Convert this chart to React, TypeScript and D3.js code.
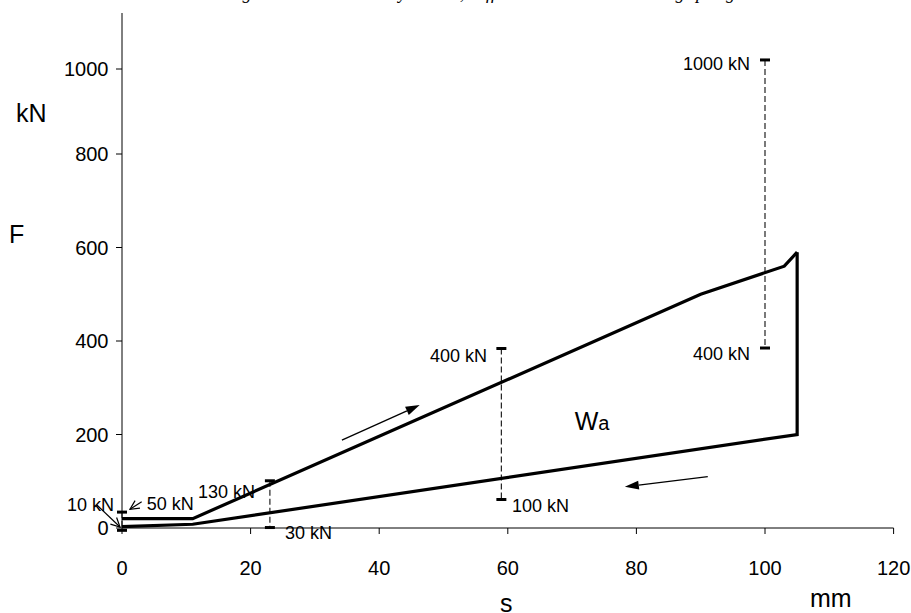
import React from "react";
import * as d3 from "d3";

const W = 911;
const H = 613;

// loading branch (s in mm, F in kN)
const loadS = [0, 11, 90, 103, 105];
const loadF = [20, 20, 500, 560, 590];
// unloading branch
const unloadS = [105, 105, 11, 0];
const unloadF = [590, 200, 8, 3];

const xTicks = [0, 20, 40, 60, 80, 100, 120];
const yTicks = [0, 200, 400, 600, 800, 1000];

// tolerance bands (dashed verticals with end caps)
const rangeS = [0, 23, 59, 100];
const rangeLo = [-5, 1, 61, 385];
const rangeHi = [34, 101, 384, 1021];

// band labels (anchor in data units: s, F)
const noteText = ["10 kN", "50 kN", "130 kN", "30 kN", "400 kN", "100 kN", "1000 kN", "400 kN"];
const noteS = [-8.55, 3.83, 11.82, 25.35, 47.9, 60.65, 87.25, 88.8];
const noteF = [35.3, 38.5, 64.2, -23.5, 355.5, 34.2, 997.6, 359.4];

// direction arrows (filled heads)
const dirFromS = [34.2, 91.1];
const dirFromF = [188, 110];
const dirToS = [46.3, 78.2];
const dirToF = [263, 88];

// pointer arrows (open heads)
const ptrFromS = [-3.9, 3.06];
const ptrFromF = [49.2, 56.3];
const ptrToS = [-0.31, 1.24];
const ptrToF = [2.1, 40.1];

const titleText = "Fig. 5.1: Force-stroke hysteresis, stiff mount with the outer ring spring";

const SANS = "'Liberation Sans', Arial, Helvetica, sans-serif";

export default function App() {
  const x = d3.scaleLinear().domain([0, 120]).range([122, 893.6]);
  const y = d3.scaleLinear().domain([0, 800, 1000, 1130]).range([528, 154, 69, 13]);

  const line = d3
    .line<[number, number]>()
    .x((d) => x(d[0]))
    .y((d) => y(d[1]));

  const loadPts: [number, number][] = loadS.map((s, i) => [s, loadF[i]]);
  const unloadPts: [number, number][] = unloadS.map((s, i) => [s, unloadF[i]]);

  const filledArrow = (i: number) => {
    const x0 = x(dirFromS[i]), y0 = y(dirFromF[i]);
    const x1 = x(dirToS[i]), y1 = y(dirToF[i]);
    const dx = x1 - x0, dy = y1 - y0;
    const len = Math.hypot(dx, dy);
    const ux = dx / len, uy = dy / len;
    const nx = -uy, ny = ux;
    const L = 14, w = 4.5;
    const bx = x1 - ux * L, by = y1 - uy * L;
    return (
      <g key={"da" + i}>
        <line x1={x0} y1={y0} x2={bx} y2={by} stroke="#000" strokeWidth={1.3} />
        <polygon
          points={`${x1},${y1} ${bx + nx * w},${by + ny * w} ${bx - nx * w},${by - ny * w}`}
          fill="#000"
        />
      </g>
    );
  };

  const openArrow = (i: number) => {
    const x0 = x(ptrFromS[i]), y0 = y(ptrFromF[i]);
    const x1 = x(ptrToS[i]), y1 = y(ptrToF[i]);
    const dx = x1 - x0, dy = y1 - y0;
    const len = Math.hypot(dx, dy);
    const ux = dx / len, uy = dy / len;
    const nx = -uy, ny = ux;
    const L = 9, w = 4.5;
    const bx = x1 - ux * L, by = y1 - uy * L;
    return (
      <g key={"pa" + i} stroke="#000" strokeWidth={1.2} fill="none">
        <line x1={x0} y1={y0} x2={x1} y2={y1} />
        <polyline points={`${bx + nx * w},${by + ny * w} ${x1},${y1} ${bx - nx * w},${by - ny * w}`} />
      </g>
    );
  };

  const x0 = x(0);
  const y0 = y(0);

  return (
    <svg
      width={W}
      height={H}
      viewBox={`0 0 ${W} ${H}`}
      style={{ position: "absolute", left: 0, top: 0, background: "#fff" }}
    >
      <rect x={0} y={0} width={W} height={H} fill="#fff" />
      {/* clipped title (only descenders visible) */}
      <text
        x={226.5}
        y={-1}
        fontFamily="'Liberation Serif', 'Times New Roman', serif"
        fontStyle="italic"
        fontSize={18}
        fill="#000"
      >
        {titleText}
      </text>

      {/* axes */}
      <line x1={x0} y1={y(1130)} x2={x0} y2={y0} stroke="#000" strokeWidth={1} />
      <line x1={x0} y1={y0} x2={x(120)} y2={y0} stroke="#000" strokeWidth={1} />
      {yTicks.map((v) => (
        <g key={"yt" + v}>
          <line x1={x0 - 6} y1={y(v)} x2={x0} y2={y(v)} stroke="#000" strokeWidth={1} />
          <text
            x={108.5}
            y={y(v) + 7}
            textAnchor="end"
            fontFamily={SANS}
            fontSize={20}
            fill="#000"
          >
            {v}
          </text>
        </g>
      ))}
      {xTicks.map((v) => (
        <g key={"xt" + v}>
          <line x1={x(v)} y1={y0} x2={x(v)} y2={y0 + 6} stroke="#000" strokeWidth={1} />
          <text
            x={x(v)}
            y={575}
            textAnchor="middle"
            fontFamily={SANS}
            fontSize={20}
            fill="#000"
          >
            {v}
          </text>
        </g>
      ))}

      {/* axis titles */}
      <text x={16} y={122} fontFamily={SANS} fontSize={25} fill="#000">kN</text>
      <text x={9} y={243} fontFamily={SANS} fontSize={25} fill="#000">F</text>
      <text x={500} y={612} fontFamily={SANS} fontSize={25} fill="#000">s</text>
      <text x={810} y={607} fontFamily={SANS} fontSize={25} fill="#000">mm</text>

      {/* tolerance bands */}
      {rangeS.map((s, i) => (
        <g key={"rb" + i}>
          <line
            x1={x(s)}
            y1={y(rangeHi[i])}
            x2={x(s)}
            y2={y(rangeLo[i])}
            stroke="#222"
            strokeWidth={1.2}
            strokeDasharray="6,3"
          />
          <line x1={x(s) - 5} y1={y(rangeHi[i])} x2={x(s) + 5} y2={y(rangeHi[i])} stroke="#000" strokeWidth={3} />
          <line x1={x(s) - 5} y1={y(rangeLo[i])} x2={x(s) + 5} y2={y(rangeLo[i])} stroke="#000" strokeWidth={3} />
        </g>
      ))}

      {/* curves */}
      <path d={line(loadPts) || ""} fill="none" stroke="#000" strokeWidth={3.2} strokeLinejoin="miter" />
      <path d={line(unloadPts) || ""} fill="none" stroke="#000" strokeWidth={3.2} strokeLinejoin="miter" />

      {/* labels */}
      {noteText.map((t, i) => (
        <text key={"nt" + i} x={x(noteS[i])} y={y(noteF[i])} fontFamily={SANS} fontSize={18} fill="#000">
          {t}
        </text>
      ))}

      {dirFromS.map((_, i) => filledArrow(i))}
      {ptrFromS.map((_, i) => openArrow(i))}

      {/* work area label */}
      <text x={x(70.4)} y={y(209.6)} fontFamily={SANS} fill="#000">
        <tspan fontSize={25}>W</tspan>
        <tspan fontSize={20}>a</tspan>
      </text>
    </svg>
  );
}
